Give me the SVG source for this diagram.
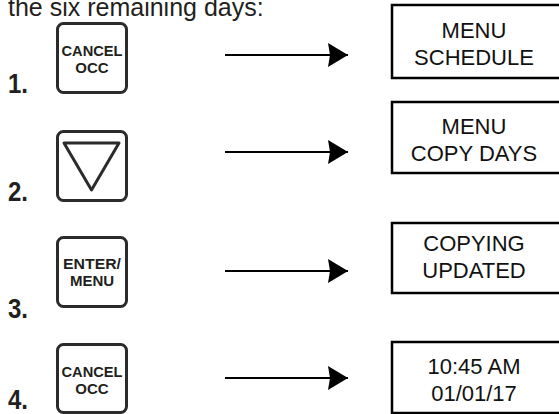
<svg xmlns="http://www.w3.org/2000/svg" width="559" height="414" viewBox="0 0 559 414">
<style>
.head{font-family:"Liberation Sans",Arial,sans-serif;font-size:25px;fill:#231f20}
.num{font-family:"Liberation Sans",Arial,sans-serif;font-size:28px;font-weight:bold;fill:#231f20}
.btn{fill:#fff;stroke:#2b2b2b;stroke-width:3}
.bt{font-family:"Liberation Sans",Arial,sans-serif;font-size:15px;font-weight:bold;fill:#231f20;text-anchor:middle}
.box{fill:#fff;stroke:#000;stroke-width:2.5}
.bx{font-family:"Liberation Sans",Arial,sans-serif;font-size:22px;fill:#111;text-anchor:middle}
.conn{stroke:#000;stroke-width:2;fill:none}
</style>
<defs>
<marker id="ah" markerWidth="22" markerHeight="24" refX="20" refY="12" orient="auto" markerUnits="userSpaceOnUse">
<path d="M0,0 L20,12 L0,24 L2,12 Z" fill="#000"/>
</marker>
</defs>
<text class="head" x="8" y="16">the six remaining days:</text>

<g id="step1">
<text class="num" x="8" y="93" textLength="20" lengthAdjust="spacingAndGlyphs">1.</text>
<rect class="btn" x="57.5" y="23.5" width="69" height="69" rx="6"/>
<text class="bt" x="92" y="56" textLength="61" lengthAdjust="spacingAndGlyphs">CANCEL</text>
<text class="bt" x="92" y="73">OCC</text>
</g>
<g id="step2">
<text class="num" x="8" y="201" textLength="20" lengthAdjust="spacingAndGlyphs">2.</text>
<rect class="btn" x="57.5" y="131.5" width="69" height="69" rx="6"/>
<path d="M64,143 L119,143 L91.5,190 Z" fill="none" stroke="#2b2b2b" stroke-width="3" stroke-linejoin="round"/>
</g>
<g id="step3">
<text class="num" x="8" y="318" textLength="20" lengthAdjust="spacingAndGlyphs">3.</text>
<rect class="btn" x="57.5" y="237.5" width="69" height="69" rx="6"/>
<text class="bt" x="92" y="269" textLength="58" lengthAdjust="spacingAndGlyphs">ENTER/</text>
<text class="bt" x="92" y="286">MENU</text>
</g>
<g id="step4">
<text class="num" x="8" y="409" textLength="20" lengthAdjust="spacingAndGlyphs">4.</text>
<rect class="btn" x="57.5" y="344.5" width="69" height="68" rx="6"/>
<text class="bt" x="92" y="377" textLength="61" lengthAdjust="spacingAndGlyphs">CANCEL</text>
<text class="bt" x="92" y="394">OCC</text>
</g>

<g id="display1">
<rect class="box" x="392" y="5" width="180" height="73"/>
<text class="bx" x="474" y="38">MENU</text>
<text class="bx" x="474" y="65">SCHEDULE</text>
</g>
<g id="display2">
<rect class="box" x="392" y="102" width="180" height="71"/>
<text class="bx" x="474" y="134">MENU</text>
<text class="bx" x="474" y="161">COPY DAYS</text>
</g>
<g id="display3">
<rect class="box" x="392" y="223" width="180" height="70"/>
<text class="bx" x="474" y="251">COPYING</text>
<text class="bx" x="474" y="278">UPDATED</text>
</g>
<g id="display4">
<rect class="box" x="392" y="342" width="180" height="71"/>
<text class="bx" x="474" y="374">10:45 AM</text>
<text class="bx" x="474" y="401">01/01/17</text>
</g>

<g id="connectors">
<line class="conn" x1="225" y1="55" x2="348" y2="55" marker-end="url(#ah)"/>
<line class="conn" x1="225" y1="152" x2="348" y2="152" marker-end="url(#ah)"/>
<line class="conn" x1="225" y1="271" x2="348" y2="271" marker-end="url(#ah)"/>
<line class="conn" x1="225" y1="378" x2="348" y2="378" marker-end="url(#ah)"/>
</g>
</svg>
